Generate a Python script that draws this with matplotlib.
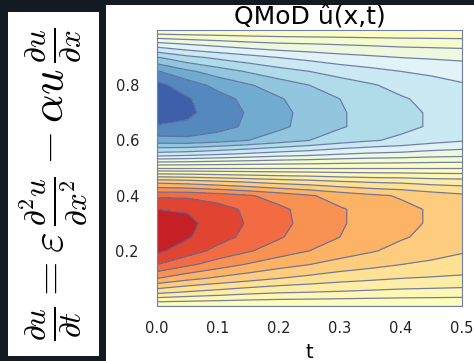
import matplotlib
matplotlib.use('Agg')
import matplotlib.pyplot as plt
import numpy as np

plt.rcParams['mathtext.fontset'] = 'cm'

# grid: t along the horizontal axis, x along the vertical one
t_vals = [0.0, 0.05, 0.1, 0.15, 0.2, 0.25, 0.3, 0.35, 0.4, 0.45, 0.5]
x_vals = [0.0, 0.05, 0.1, 0.15, 0.2, 0.25, 0.3, 0.35, 0.4, 0.45, 0.5,
          0.55, 0.6, 0.65, 0.7, 0.75, 0.8, 0.85, 0.9, 0.95, 1.0]

# u(x, t), one row per time value, estimated from the contour bands
u_rows = [
    [0, .33, .60, .80, .92, .99, .97, .90, .78, .47, 0, -.46, -.76, -.89, -.97, -.99, -.93, -.81, -.61, -.33, 0],
    [0, .29, .53, .72, .85, .91, .925, .89, .78, .45, 0, -.44, -.77, -.88, -.92, -.91, -.85, -.72, -.53, -.29, 0],
    [0, .26, .48, .65, .77, .84, .855, .84, .75, .42, 0, -.41, -.74, -.84, -.855, -.84, -.77, -.65, -.48, -.26, 0],
    [0, .23, .44, .59, .71, .77, .79, .78, .71, .39, 0, -.38, -.70, -.78, -.79, -.77, -.71, -.59, -.44, -.23, 0],
    [0, .21, .40, .54, .65, .71, .725, .72, .66, .36, 0, -.35, -.65, -.72, -.725, -.71, -.65, -.54, -.40, -.21, 0],
    [0, .20, .37, .50, .60, .65, .67, .665, .61, .34, 0, -.33, -.60, -.665, -.67, -.65, -.60, -.50, -.37, -.20, 0],
    [0, .19, .34, .46, .55, .60, .61, .61, .56, .31, 0, -.30, -.55, -.61, -.61, -.60, -.55, -.46, -.34, -.19, 0],
    [0, .18, .32, .43, .51, .55, .565, .565, .52, .29, 0, -.28, -.51, -.565, -.565, -.55, -.51, -.43, -.32, -.18, 0],
    [0, .17, .30, .40, .47, .51, .525, .525, .49, .28, 0, -.27, -.48, -.525, -.525, -.51, -.47, -.40, -.30, -.17, 0],
    [0, .165, .29, .38, .44, .475, .49, .49, .45, .26, 0, -.25, -.44, -.49, -.49, -.475, -.44, -.38, -.29, -.165, 0],
    [0, .16, .28, .36, .41, .445, .455, .455, .42, .25, 0, -.24, -.41, -.455, -.455, -.445, -.41, -.36, -.28, -.16, 0],
]

x_ticks = [0.2, 0.4, 0.6, 0.8]
t_ticks = [0.0, 0.1, 0.2, 0.3, 0.4, 0.5]

W, H = 474, 361
fig = plt.figure(figsize=(W / 100, H / 100), dpi=100)
fig.patch.set_facecolor('#131a22')

# left white card with the equation
eq_ax = fig.add_axes([8 / W, 5 / H, 91 / W, 344 / H])
eq_ax.set_facecolor('white')
eq_ax.set_xticks([])
eq_ax.set_yticks([])
for s in eq_ax.spines.values():
    s.set_visible(False)
eq_ax.text(0.5, 0.5,
           r'$\frac{\partial u}{\partial t} = \varepsilon\,\frac{\partial^2 u}{\partial x^2} - \alpha u\,\frac{\partial u}{\partial x}$',
           rotation=90, ha='center', va='center', fontsize=32, transform=eq_ax.transAxes)

# white card behind the contour plot
card = fig.add_axes([106 / W, 0, 368 / W, 356 / H])
card.set_facecolor('white')
card.set_xticks([])
card.set_yticks([])
for s in card.spines.values():
    s.set_visible(False)

ax = fig.add_axes([157 / W, 55 / H, 305 / W, 276 / H])
U = np.array(u_rows).T
levels = np.linspace(-1.0, 1.0, 21)

# band colours: RdYlBu_r, kept pale near zero and dark only at the extremes
mids = (levels[:-1] + levels[1:]) / 2
pos = 0.5 + 0.5 * np.sign(mids) * np.abs(mids / 1.05) ** 1.5
band_colors = plt.get_cmap('RdYlBu_r')(pos)

ax.contourf(t_vals, x_vals, U, levels=levels, colors=band_colors)
ax.contour(t_vals, x_vals, U, levels=levels, colors='#5b6b9a', linewidths=0.9,
           linestyles='solid', alpha=0.85)

ax.set_xlim(0, 0.5)
ax.set_ylim(0, 1)
ax.set_xticks(t_ticks)
ax.set_yticks(x_ticks)
ax.tick_params(length=0, labelsize=10.5, colors='#222222')
ax.tick_params(axis='x', pad=11)
ax.tick_params(axis='y', pad=13)
ax.set_xlabel('t', fontsize=14, labelpad=5)
ax.set_title('QMoD û(x,t)', fontsize=18, pad=2)
for s in ax.spines.values():
    s.set_color('#7080a8')

fig.savefig('out.png', dpi=100, facecolor=fig.get_facecolor())
